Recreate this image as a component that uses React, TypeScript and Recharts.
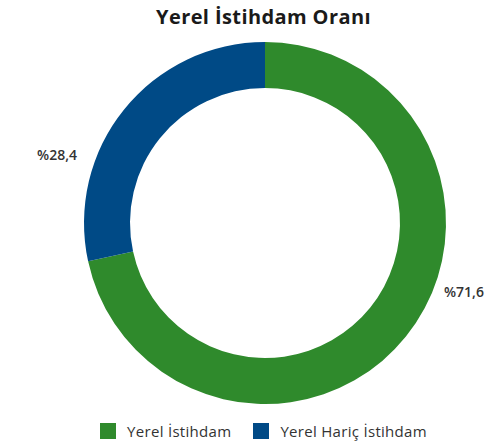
import React from "react";
import { PieChart, Pie, Cell, Legend } from "recharts";

const categories = ["Yerel İstihdam", "Yerel Hariç İstihdam"];
const values = [71.6, 28.4];
const valueLabels = ["%71,6", "%28,4"];
const colors = ["#2F8A2C", "#004A86"];
const title = "Yerel İstihdam Oranı";

const data = categories.map((name, i) => ({ name, value: values[i], label: valueLabels[i] }));

const FONT = "'Open Sans', 'DejaVu Sans', sans-serif";
const RAD = Math.PI / 180;

const renderLabel = (props: any) => {
  const { cx, cy, midAngle, outerRadius, index } = props;
  const cos = Math.cos(midAngle * RAD);
  const sin = Math.sin(midAngle * RAD);
  const right = cos >= 0;
  const x = right ? cx + outerRadius - 2 : cx - outerRadius - 7;
  const y = cy - outerRadius * 0.6 * sin;
  return (
    <text
      x={x}
      y={y}
      fill="#333"
      textAnchor={right ? "start" : "end"}
      dominantBaseline="central"
      fontFamily={FONT}
      fontSize={14}
      fontWeight={600}
    >
      {data[index].label}
    </text>
  );
};

const LegendContent = () => (
  <div style={{ display: "flex", justifyContent: "center", alignItems: "center", fontFamily: FONT, fontSize: 15, letterSpacing: 0.3, color: "#333", paddingLeft: 30 }}>
    {data.map((d, i) => (
      <div key={d.name} style={{ display: "flex", alignItems: "center", marginRight: i === 0 ? 22 : 0 }}>
        <span style={{ display: "inline-block", width: 16, height: 16, background: colors[i], marginRight: 11 }} />
        <span>{d.name}</span>
      </div>
    ))}
  </div>
);

export default function App() {
  return (
    <div style={{ position: "absolute", left: 0, top: 0, width: 497, height: 443, background: "#fff" }}>
      <div
        style={{
          position: "absolute",
          top: 3,
          left: 0,
          width: 497,
          textAlign: "center",
          fontFamily: FONT,
          fontWeight: 700,
          fontSize: 20,
          letterSpacing: 0.4,
          color: "#1a1a1a",
          paddingLeft: 30,
          boxSizing: "border-box",
        }}
      >
        {title}
      </div>
      <PieChart width={497} height={443} margin={{ top: 0, right: 0, bottom: 0, left: 0 }}>
        <Pie
          data={data}
          dataKey="value"
          nameKey="name"
          cx={265}
          cy={223}
          innerRadius={135}
          outerRadius={181}
          startAngle={90}
          endAngle={-270}
          stroke="none"
          label={renderLabel}
          labelLine={false}
          isAnimationActive={false}
        >
          {data.map((d, i) => (
            <Cell key={d.name} fill={colors[i]} />
          ))}
        </Pie>
        <Legend
          verticalAlign="bottom"
          content={<LegendContent />}
          wrapperStyle={{ left: 0, width: 497, bottom: 2 }}
        />
      </PieChart>
    </div>
  );
}
